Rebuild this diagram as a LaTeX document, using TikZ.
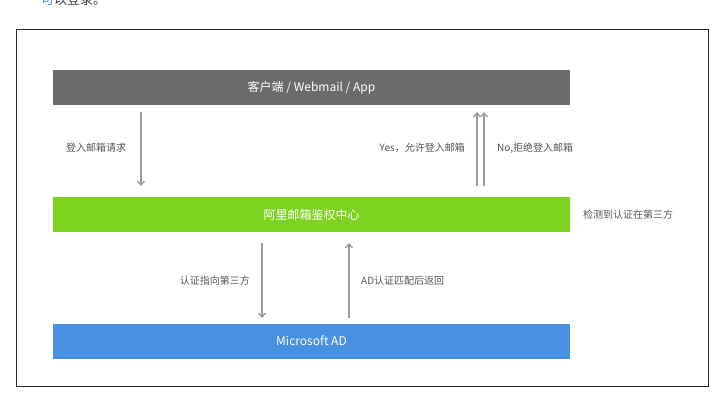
\documentclass[tikz,border=0pt]{standalone}
\usepackage{fontspec}
\setmainfont{Noto Sans CJK SC}
\usetikzlibrary{arrows.meta}
\definecolor{cgray}{HTML}{6B6B6B}
\definecolor{cgreen}{HTML}{7ED321}
\definecolor{cblue}{HTML}{4A90E2}
\definecolor{arr}{HTML}{9B9B9B}
\definecolor{lbl}{HTML}{555555}
\tikzset{x=1pt,y=-1pt,
 bar/.style={minimum width=517pt,minimum height=35pt,inner sep=0,text=white,font=\fontsize{12}{14}\selectfont},
 lab/.style={text=lbl,font=\fontsize{10}{12}\selectfont,inner sep=0},
 flow/.style={draw=arr,line width=1.3pt,-{Straight Barb[length=4pt,width=7pt]}}}
\begin{document}
\begin{tikzpicture}
\useasboundingbox (0,0) rectangle (725,402);
\fill[white] (0,0) rectangle (725,402);
\begin{scope}
\clip (0,0) rectangle (725,402);
\node[anchor=base west,inner sep=0,font=\fontsize{13}{15}\selectfont,text=black!75] (top) at (41,4) {{\color{cblue}可}以登录。};
\end{scope}
\draw[black!85,line width=1pt] (16,29) rectangle (708,386);
\node[bar,fill=cgray] (c) at (311.5,87.5) {客户端 / Webmail / App};
\node[bar,fill=cgreen] (g) at (311.5,214.5) {阿里邮箱鉴权中心};
\node[bar,fill=cblue] (m) at (311.5,341) {Microsoft AD};
\coordinate (a1) at (141,112); \coordinate (a2) at (141,186);
\draw[flow] (a1) -- (a2);
\coordinate (b1) at (477,186); \coordinate (b2) at (477,112);
\coordinate (d1) at (484,186); \coordinate (d2) at (484,112);
\draw[flow] (b1) -- (b2);
\draw[flow] (d1) -- (d2);
\coordinate (e1) at (262,243); \coordinate (e2) at (262,318);
\coordinate (f1) at (349,318); \coordinate (f2) at (349,243);
\draw[flow] (e1) -- (e2);
\draw[flow] (f1) -- (f2);
\node[lab] (l1) at (96,148) {登入邮箱请求};
\node[lab,anchor=east] (l2) at (465,148) {Yes，允许登入邮箱};
\node[lab,anchor=west] (l3) at (497,148) {No,拒绝登入邮箱};
\node[lab,anchor=west] (l4) at (583,215) {检测到认证在第三方};
\node[lab,anchor=east] (l5) at (250,281) {认证指向第三方};
\node[lab,anchor=west] (l6) at (361,281) {AD认证匹配后返回};
\end{tikzpicture}
\end{document}
